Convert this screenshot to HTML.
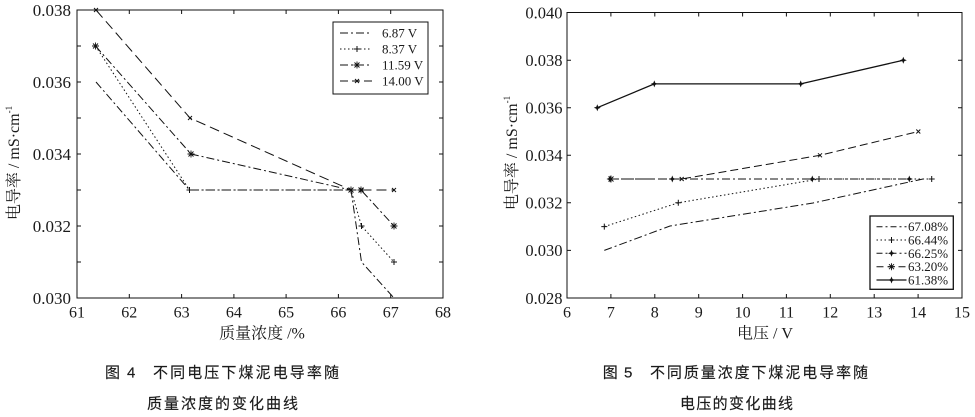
<!DOCTYPE html>
<html><head><meta charset="utf-8"><style>
html,body{margin:0;padding:0;background:#fff;}
svg{display:block;}
.t{font-family:"Liberation Serif","Noto Serif CJK SC",serif;fill:#1a1a1a;}
.c{font-family:"Liberation Sans","Noto Sans CJK SC",sans-serif;fill:#1a1a1a;}
</style></head><body>
<svg width="975" height="417" viewBox="0 0 975 417" xmlns="http://www.w3.org/2000/svg">
<defs>
<path id="mp" d="M-3,0H3M0,-3V3" stroke="#111" stroke-width="1" fill="none"/>
<path id="mx" d="M-2,-2L2,2M-2,2L2,-2" stroke="#111" stroke-width="1" fill="none"/>
<path id="ms" d="M-3.5,0H3.5M0,-3.5V3.5M-2.5,-2.5L2.5,2.5M-2.5,2.5L2.5,-2.5" stroke="#111" stroke-width="0.9" fill="none"/>
<path id="m4" d="M0,-3.5L1,-1L3.5,0L1,1L0,3.5L-1,1L-3.5,0L-1,-1Z" fill="#111"/>
</defs>
<rect width="975" height="417" fill="#fff"/>

<!-- LEFT CHART -->
<g stroke="#111" stroke-width="1" fill="none">
<rect x="77" y="10" width="366" height="288"/>
<path d="M129.3,298v-4M181.6,298v-4M233.9,298v-4M286.1,298v-4M338.4,298v-4M390.7,298v-4
M129.3,10v4M181.6,10v4M233.9,10v4M286.1,10v4M338.4,10v4M390.7,10v4
M77,46h4M77,82h4M77,118h4M77,154h4M77,190h4M77,226h4M77,262h4
M443,46h-4M443,82h-4M443,118h-4M443,154h-4M443,190h-4M443,226h-4M443,262h-4"/>
</g>
<g class="t" font-family="'Liberation Serif', serif" font-size="17" text-anchor="end">
<text x="71" y="16">0.038</text>
<text x="71" y="88">0.036</text>
<text x="71" y="160">0.034</text>
<text x="71" y="232">0.032</text>
<text x="71" y="304">0.030</text>
</g>
<g class="t" font-family="'Liberation Serif', serif" font-size="16" text-anchor="middle">
<text x="77" y="317.5">61</text>
<text x="129.3" y="317.5">62</text>
<text x="181.6" y="317.5">63</text>
<text x="233.9" y="317.5">64</text>
<text x="286.1" y="317.5">65</text>
<text x="338.4" y="317.5">66</text>
<text x="390.7" y="317.5">67</text>
<text x="443" y="317.5">68</text>
</g>
<text class="t" font-size="16" text-anchor="middle" x="262" y="338.5">质量浓度 /%</text>
<text class="t" font-size="16" text-anchor="middle" transform="translate(19,163) rotate(-90)">电导率 / mS·cm<tspan font-size="9" dy="-7">-1</tspan></text>

<g fill="none" stroke="#111" stroke-width="1">
<polyline points="96,82 189.5,190 351,190 361.5,262 394,298" stroke-dasharray="8,3,2,3"/>
<polyline points="95.5,46 189.5,190 351,190 361.5,226 394,262" stroke-dasharray="1.5,2.5"/>
<polyline points="95.5,46 191,154 351,190 361,190 394,226" stroke-dasharray="8,3,2,3"/>
<polyline points="96,10 190,118 351,190 361.5,190 394,190" stroke-dasharray="10,5"/>
</g>
<use href="#mp" x="189.5" y="190"/><use href="#mp" x="361.5" y="226"/><use href="#mp" x="394" y="262"/>
<use href="#ms" x="95.5" y="46"/><use href="#ms" x="191" y="154"/><use href="#ms" x="351" y="190"/><use href="#ms" x="361" y="190"/><use href="#ms" x="394" y="226"/>
<use href="#mx" x="96" y="10"/><use href="#mx" x="190" y="118"/><use href="#mx" x="361.5" y="190"/><use href="#mx" x="394" y="190"/>

<rect x="333" y="22" width="95" height="72" fill="#fff" stroke="#111" stroke-width="1"/>
<g fill="none" stroke="#111" stroke-width="1">
<line x1="340" y1="33" x2="372" y2="33" stroke-dasharray="8,3,2,3"/>
<line x1="340" y1="49" x2="372" y2="49" stroke-dasharray="1.5,2.5"/>
<line x1="340" y1="65" x2="372" y2="65" stroke-dasharray="8,3,2,3"/>
<line x1="340" y1="81" x2="372" y2="81" stroke-dasharray="8,4"/>
</g>
<use href="#mp" x="357" y="49"/><use href="#ms" x="357" y="65"/><use href="#mx" x="357" y="81"/>
<g class="t" font-family="'Liberation Serif', serif" font-size="13">
<text x="382" y="37.5">6.87 V</text>
<text x="382" y="53.5">8.37 V</text>
<text x="382" y="69.5">11.59 V</text>
<text x="382" y="85.5">14.00 V</text>
</g>

<!-- RIGHT CHART -->
<g stroke="#111" stroke-width="1" fill="none">
<rect x="567" y="12.5" width="395" height="285.5"/>
<path d="M610.9,298v-4M654.8,298v-4M698.7,298v-4M742.6,298v-4M786.4,298v-4M830.3,298v-4M874.2,298v-4M918.1,298v-4
M610.9,12.5v4M654.8,12.5v4M698.7,12.5v4M742.6,12.5v4M786.4,12.5v4M830.3,12.5v4M874.2,12.5v4M918.1,12.5v4
M567,60.2h4M567,107.7h4M567,155.3h4M567,202.8h4M567,250.4h4
M962,60.2h-4M962,107.7h-4M962,155.3h-4M962,202.8h-4M962,250.4h-4"/>
</g>
<g class="t" font-family="'Liberation Serif', serif" font-size="16.5" text-anchor="end">
<text x="562.5" y="18.5">0.040</text>
<text x="562.5" y="66">0.038</text>
<text x="562.5" y="113.5">0.036</text>
<text x="562.5" y="161">0.034</text>
<text x="562.5" y="208.5">0.032</text>
<text x="562.5" y="256">0.030</text>
<text x="562.5" y="304">0.028</text>
</g>
<g class="t" font-family="'Liberation Serif', serif" font-size="16" text-anchor="middle">
<text x="567" y="317.5">6</text>
<text x="610.9" y="317.5">7</text>
<text x="654.8" y="317.5">8</text>
<text x="698.7" y="317.5">9</text>
<text x="742.6" y="317.5">10</text>
<text x="786.4" y="317.5">11</text>
<text x="830.3" y="317.5">12</text>
<text x="874.2" y="317.5">13</text>
<text x="918.1" y="317.5">14</text>
<text x="962" y="317.5">15</text>
</g>
<text class="t" font-size="16" text-anchor="middle" x="765" y="338.5">电压 / V</text>
<text class="t" font-size="16" text-anchor="middle" transform="translate(517,153) rotate(-90)">电导率 / mS·cm<tspan font-size="9" dy="-7">-1</tspan></text>

<g fill="none" stroke="#111" stroke-width="1">
<polyline points="604.3,250.4 670,226 813,203 923,179" stroke-dasharray="8,3,2,3"/>
<polyline points="604.3,226.6 678.3,202.8 819,179 931.7,179" stroke-dasharray="1.5,2.5"/>
<polyline points="610,179 672.3,179 812.3,179 909.3,179" stroke-dasharray="8,3,2,3"/>
<polyline points="611,179 681.7,179 820,155.3 918.3,131.5" stroke-dasharray="8,4"/>
<polyline points="597.3,107.7 654.3,83.9 800.7,83.9 903.3,60.2" stroke-width="1.3"/>
</g>
<use href="#mp" x="604.3" y="226.6"/><use href="#mp" x="678.3" y="202.8"/><use href="#mp" x="819" y="179"/><use href="#mp" x="931.7" y="179"/>
<use href="#m4" x="610" y="179"/><use href="#m4" x="672.3" y="179"/><use href="#m4" x="812.3" y="179"/><use href="#m4" x="909.3" y="179"/>
<use href="#ms" x="611" y="179"/><use href="#mx" x="681.7" y="179"/><use href="#mx" x="820" y="155.3"/><use href="#mx" x="918.3" y="131.5"/>
<use href="#m4" x="597.3" y="107.7"/><use href="#m4" x="654.3" y="83.9"/><use href="#m4" x="800.7" y="83.9"/><use href="#m4" x="903.3" y="60.2"/>

<rect x="870" y="216" width="83.3" height="73.3" fill="#fff" stroke="#111" stroke-width="1.3"/>
<g fill="none" stroke="#111" stroke-width="1">
<line x1="876.5" y1="226.7" x2="906.5" y2="226.7" stroke-dasharray="6,3,2,3"/>
<line x1="876.5" y1="240" x2="906.5" y2="240" stroke-dasharray="1.5,2.5"/>
<line x1="876.5" y1="253.3" x2="906.5" y2="253.3" stroke-dasharray="6,3,2,3"/>
<line x1="876.5" y1="266.7" x2="906.5" y2="266.7" stroke-dasharray="7,4"/>
<line x1="876.5" y1="280" x2="906.5" y2="280" stroke-width="1.3"/>
</g>
<use href="#mp" x="891.5" y="240"/><use href="#m4" x="891.5" y="253.3"/><use href="#ms" x="891.5" y="266.7"/><use href="#m4" x="891.5" y="280"/>
<g class="t" font-family="'Liberation Serif', serif" font-size="13">
<text x="908" y="231.2">67.08%</text>
<text x="908" y="244.5">66.44%</text>
<text x="908" y="257.8">66.25%</text>
<text x="908" y="271.2">63.20%</text>
<text x="908" y="284.5">61.38%</text>
</g>

<!-- CAPTIONS -->
<g class="c" font-size="15" stroke="#1a1a1a" stroke-width="0.15">
<text x="105" y="377.5">图</text>
<text x="127" y="377.5">4</text>
<text x="153" y="377.5" textLength="186" lengthAdjust="spacing">不同电压下煤泥电导率随</text>
<text x="147" y="408.7" textLength="151" lengthAdjust="spacing">质量浓度的变化曲线</text>
<text x="602.7" y="377.5">图</text>
<text x="624" y="377.5">5</text>
<text x="650" y="377.5" textLength="218" lengthAdjust="spacing">不同质量浓度下煤泥电导率随</text>
<text x="680" y="408.7" textLength="113" lengthAdjust="spacing">电压的变化曲线</text>
</g>
</svg>
</body></html>
